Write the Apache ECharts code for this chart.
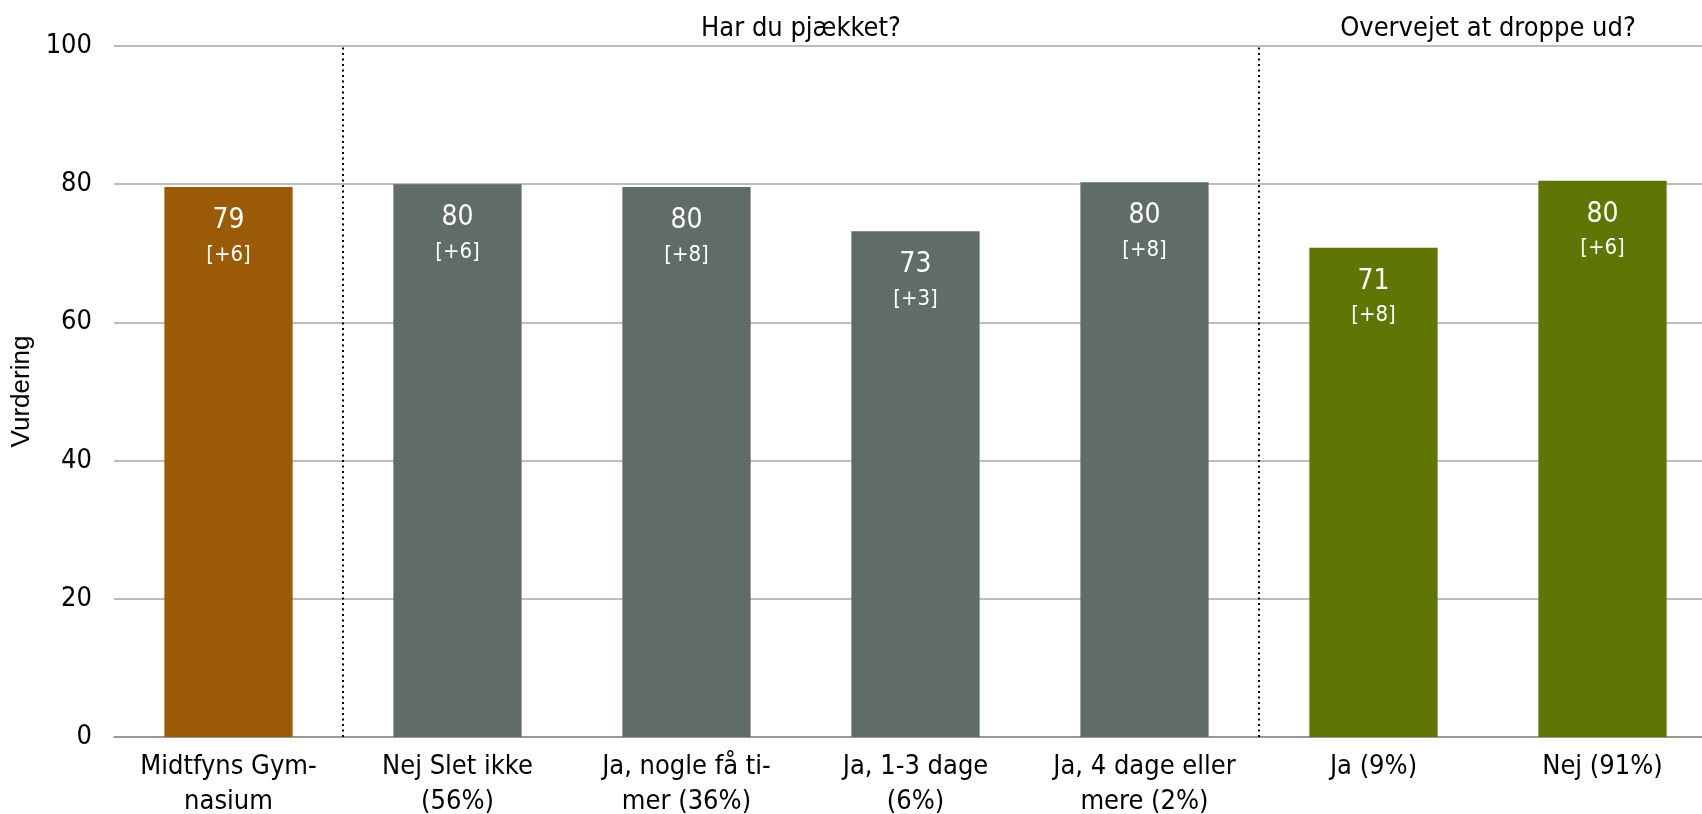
<!DOCTYPE html>
<html><head><meta charset="utf-8">
<script src="https://cdn.jsdelivr.net/npm/echarts@6/dist/echarts.min.js"></script>
<style>html,body{margin:0;padding:0;background:#fff}#c{width:1702px;height:814px}</style>
</head><body><div id="c"></div>
<script>
const categories = ["Midtfyns Gym-\nnasium","Nej Slet ikke\n(56%)","Ja, nogle få ti-\nmer (36%)","Ja, 1-3 dage\n(6%)","Ja, 4 dage eller\nmere (2%)","Ja (9%)","Nej (91%)"];
const values = [79.6, 80.0, 79.6, 73.2, 80.3, 70.8, 80.5];
const valueLabels = ["79","80","80","73","80","71","80"];
const diffLabels = ["[+6]","[+6]","[+8]","[+3]","[+8]","[+8]","[+6]"];
const barColors = ["#9b5a05","#5f6d66","#5f6d66","#5f6d66","#5f6d66","#5f7604","#5f7604"];
const groupTitles = ["Har du pjækket?","Overvejet at droppe ud?"];
const groupRanges = [[1,4],[5,6]];
const separators = [0.5, 4.5];
const yTicks = [0,20,40,60,80,100];

const FONT = '"DejaVu Sans Condensed","DejaVu Sans",sans-serif';
const chart = echarts.init(document.getElementById('c'), null, {renderer:'canvas'});
chart.setOption({
  animation:false,
  grid:{left:114, top:46, height:691, width:1603, containLabel:false, outerBoundsMode:'none'},
  xAxis:[{
    type:'category', data:categories,
    axisTick:{show:false},
    axisLine:{lineStyle:{color:'#8c8c8c', width:1.5}},
    axisLabel:{color:'#000', fontFamily:FONT, fontSize:27, lineHeight:35, margin:12, interval:0}
  },{
    type:'value', min:-0.5, max:6.5, show:false
  }],
  yAxis:{
    type:'value', min:yTicks[0], max:yTicks[yTicks.length-1], interval:20,
    name:'Vurdering', nameLocation:'middle', nameRotate:90, nameGap:76,
    nameTextStyle:{color:'#000', fontFamily:'"Liberation Sans",Arial,sans-serif', fontSize:26},
    axisLine:{show:false}, axisTick:{show:false},
    axisLabel:{color:'#000', fontFamily:FONT, fontSize:27, margin:22},
    splitLine:{lineStyle:{color:'#a6a6a6', width:1.5}}
  },
  series:[{
    type:'bar', xAxisIndex:0, barWidth:'56%',
    data:values.map((v,i)=>({value:v, itemStyle:{color:barColors[i]}})),
    label:{show:true, position:'insideTop', distance:17,
      formatter:p=>'{v|'+valueLabels[p.dataIndex]+'}\n{d|'+diffLabels[p.dataIndex]+'}',
      rich:{v:{color:'#fff', fontFamily:FONT, fontSize:28, lineHeight:34},
            d:{color:'#fff', fontFamily:FONT, fontSize:22, lineHeight:34}}},
    markArea:{silent:true,
      itemStyle:{color:'rgba(0,0,0,0)'},
      label:{position:'top', distance:4, color:'#000', fontFamily:FONT, fontSize:27},
      data:groupRanges.map((r,i)=>[{name:groupTitles[i], xAxis:r[0], yAxis:100},{xAxis:r[1], yAxis:0}])
    }
  },{
    type:'scatter', xAxisIndex:1, data:[], symbolSize:0,
    markLine:{silent:true, symbol:['none','none'], label:{show:false},
      lineStyle:{color:'#000', type:[2,3.5], width:2},
      data:separators.map(s=>({xAxis:s}))}
  }]
});
</script></body></html>
